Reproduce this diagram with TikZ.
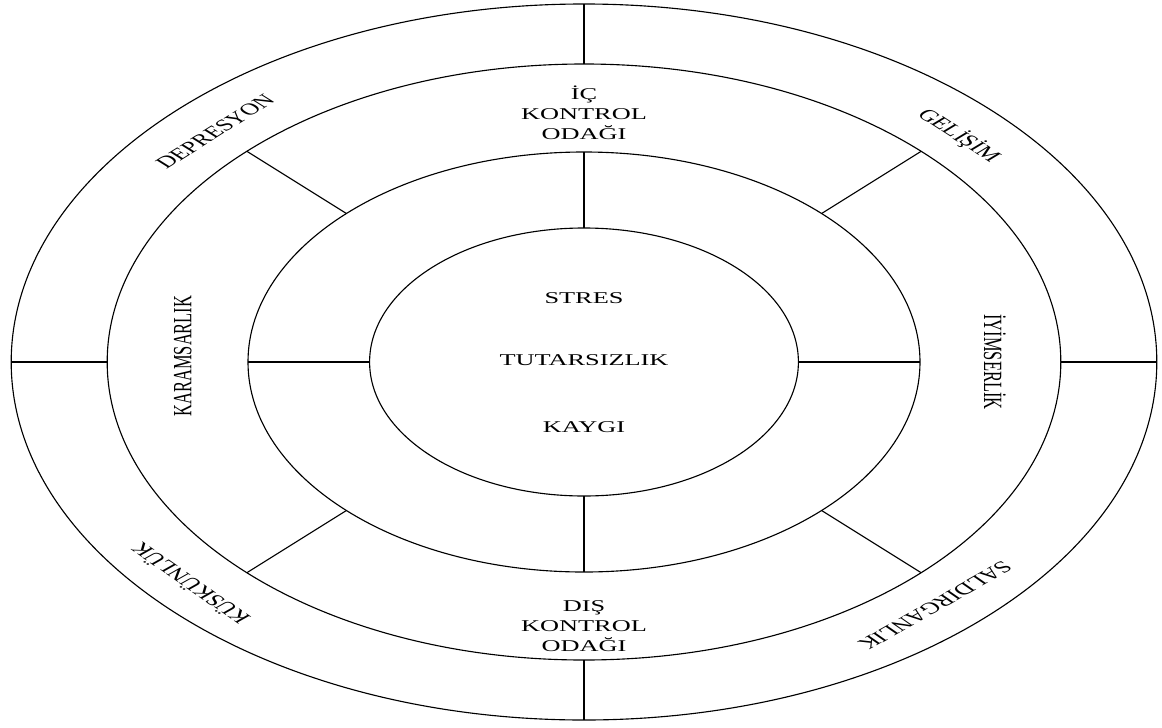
\documentclass[tikz,border=0pt]{standalone}
\usepackage{fontspec}
\setmainfont{Liberation Serif}
\begin{document}
\begin{tikzpicture}[xscale=1.6,line width=0.8pt,
  lab/.style={transform shape,font=\fontsize{11.7}{14.2}\selectfont,align=center,inner sep=1pt}]
  \useasboundingbox (-9.125,-9.125) rectangle (9.031,9.05);

  \foreach \r in {8.95,7.45,5.25,3.35}
    \draw (0,0) circle (\r);
  \foreach \a in {0,90,180,270}
  {
    \draw (\a:7.45) -- (\a:8.95);
    \draw (\a:3.35) -- (\a:5.25);
  }
  \foreach \a in {45,135,225,315}
    \draw (\a:5.25) -- (\a:7.45);

  \node[lab] (stres) at (0,1.6) {STRES};
  \node[lab] (tutarsiz) at (0,0.05) {TUTARSIZLIK};
  \node[lab] (kaygi) at (0,-1.62) {KAYGI};

  \node[lab] (ic) at (0,6.22) {İÇ\\KONTROL\\ODAĞI};
  \node[lab] (dis) at (0,-6.6) {DIŞ\\KONTROL\\ODAĞI};
  \node[lab,rotate=90] (karamsar) at (-6.27,0.15) {KARAMSARLIK};
  \node[lab,rotate=-90] (iyimser) at (6.42,0) {İYİMSERLİK};

  \node[lab,rotate=45] (depresyon) at (135:8.15) {DEPRESYON};
  \node[lab,rotate=-46] (gelisim) at (44:8.15) {GELİŞİM};
  \node[lab,rotate=132] (kuskun) at (222:8.3) {KÜSKÜNLÜK};
  \node[lab,rotate=222] (saldirgan) at (312:8.2) {SALDIRGANLIK};
\end{tikzpicture}
\end{document}
